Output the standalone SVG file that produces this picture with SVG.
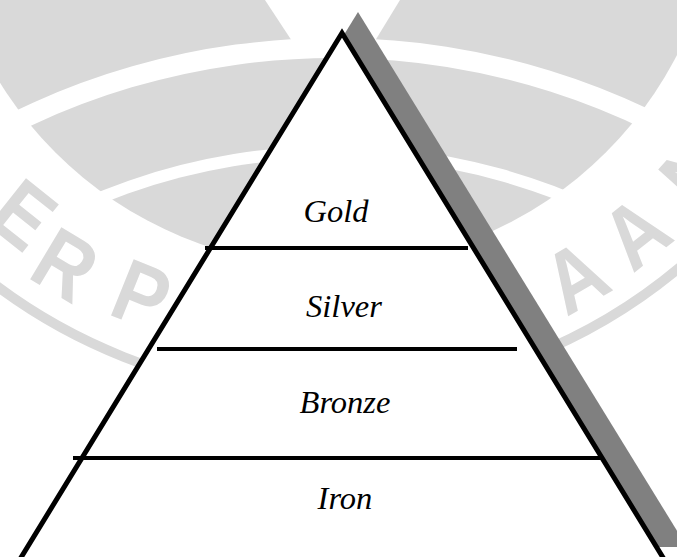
<svg xmlns="http://www.w3.org/2000/svg" width="677" height="557" viewBox="0 0 677 557">
<defs>
<clipPath id="logoClip"><circle cx="330.6" cy="-123.2" r="389.5"/></clipPath>
<style>
.wm{fill:#d9d9d9}
.wl{fill:#d9d9d9;font-family:"Liberation Sans",Arial,sans-serif;font-weight:bold;font-size:88px;text-anchor:middle}
.div{stroke:#000;stroke-width:4;fill:none}
.lbl{font-family:"Liberation Serif","Times New Roman",serif;font-style:italic;font-size:32.5px;text-anchor:middle;fill:#000}
</style>
</defs>
<rect width="677" height="557" fill="#fff"/>
<g id="watermark">
  <g clip-path="url(#logoClip)">
    <path class="wm" d="M -60,-10 H 740 V 160.7 A 733 733 0 0 0 -60 152.9 Z"/>
    <polygon fill="#fff" points="258.4,-10 294.6,45 372.5,45 406.1,-10"/>
    <path class="wm" d="M -60,176.8 A 713 713 0 0 1 740,184.9 L 740,295.8 A 625 625 0 0 0 -60,285.8 Z"/>
    <path class="wm" d="M -60,301.4 A 613 613 0 0 1 740,311.7 L 740,600 L -60,600 Z"/>
  </g>
  <circle cx="326.5" cy="-155" r="550.6" fill="none" stroke="#d9d9d9" stroke-width="9.8"/>
  <text class="wl" transform="translate(24,214) rotate(38.5) scale(0.88,1)" y="31.5">E</text>
  <text class="wl" transform="translate(66,264) rotate(31) scale(0.88,1)" y="31.5">R</text>
  <text class="wl" transform="translate(142,294) rotate(22) scale(0.88,1)" y="31.5">P</text>
  <text class="wl" transform="translate(575,276) rotate(-30) scale(0.88,1)" y="31.5">A</text>
  <text class="wl" transform="translate(635,232) rotate(-38.5) scale(0.88,1)" y="31.5">A</text>
  <text class="wl" transform="translate(695,172) rotate(-48) scale(0.88,1)" y="31.5">N</text>
</g>
<g id="shadow">
  <polygon fill="#808080" points="358,12 29,547 687,547"/>
</g>
<g id="pyramid">
  <polygon fill="#fff" stroke="#000" stroke-width="5" stroke-miterlimit="10" points="342,33 13.4,570 670.6,570"/>
</g>
<g id="connectors">
  <line class="div" x1="205" y1="248" x2="468" y2="248"/>
  <line class="div" x1="157" y1="349" x2="517" y2="349"/>
  <line class="div" x1="73" y1="458" x2="602" y2="458"/>
</g>
<g id="tier-gold"><text class="lbl" x="336" y="222">Gold</text></g>
<g id="tier-silver"><text class="lbl" x="344" y="317">Silver</text></g>
<g id="tier-bronze"><text class="lbl" x="345" y="413">Bronze</text></g>
<g id="tier-iron"><text class="lbl" x="345" y="509">Iron</text></g>
</svg>
